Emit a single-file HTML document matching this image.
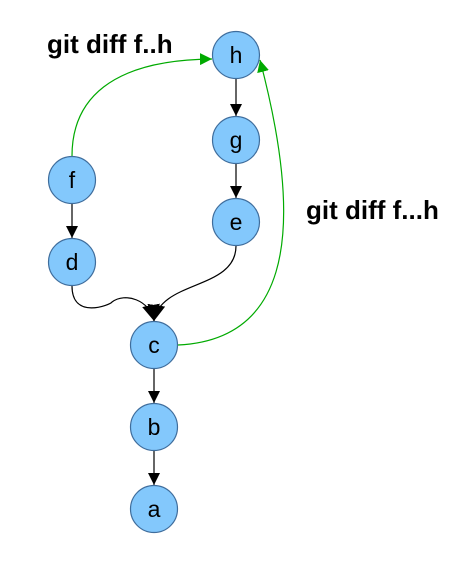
<!DOCTYPE html>
<html><head><style>html,body{margin:0;padding:0;background:#fff}</style></head><body>
<svg width="463" height="568" viewBox="0 0 463 568" xmlns="http://www.w3.org/2000/svg" font-family="Liberation Sans, sans-serif">
<defs>
<marker id="ab" markerWidth="12" markerHeight="12" refX="12" refY="6" orient="auto" markerUnits="userSpaceOnUse"><path d="M0,0 L12,6 L0,12 z" fill="#000"/></marker>
<marker id="ab2" markerWidth="16" markerHeight="18" refX="16" refY="9" orient="auto" markerUnits="userSpaceOnUse"><path d="M0,0 L16,9 L0,18 z" fill="#000"/></marker>
<marker id="ag" markerWidth="12" markerHeight="12" refX="12" refY="6" orient="auto" markerUnits="userSpaceOnUse"><path d="M0,0 L12,6 L0,12 z" fill="#0a0"/></marker>
</defs>
<g stroke="#000" stroke-width="1.2" fill="none" marker-end="url(#ab)">
<line x1="236" y1="79" x2="236" y2="116"/>
<line x1="236" y1="164" x2="236" y2="198"/>
<line x1="72" y1="204" x2="72" y2="238"/>
<line x1="154" y1="369" x2="154" y2="403"/>
<line x1="154" y1="451" x2="154" y2="485"/>
</g>
<g stroke="#000" stroke-width="1.2" fill="none" marker-end="url(#ab2)">
<path d="M72,286 C72,320 110,305 112,302 C125,292 150,300 154,321"/>
<path d="M236,246 C236,290 160,280 154,321"/>
</g>
<g stroke="#0a0" stroke-width="1.2" fill="none" marker-end="url(#ag)">
<path d="M72,156 C72,100 110,60 212,59"/>
<path d="M178,345 C280,340 310,250 260,60"/>
</g>
<g fill="#83c8fc" stroke="#3f6d9c" stroke-width="1.2">
<circle cx="236" cy="55" r="23.5"/><circle cx="236" cy="140" r="23.5"/><circle cx="236" cy="222" r="23.5"/>
<circle cx="72" cy="180" r="23.5"/><circle cx="72" cy="262" r="23.5"/><circle cx="154" cy="345" r="23.5"/>
<circle cx="154" cy="427" r="23.5"/><circle cx="154" cy="509" r="23.5"/>
</g>
<g font-size="23" text-anchor="middle" fill="#000">
<text x="236" y="63">h</text><text x="236" y="148">g</text><text x="236" y="230">e</text>
<text x="72" y="188">f</text><text x="72" y="270">d</text><text x="154" y="353">c</text>
<text x="154" y="435">b</text><text x="154" y="517">a</text>
</g>
<g font-size="26" font-weight="bold" fill="#000">
<text x="47" y="53">git diff f..h</text>
<text x="306" y="219">git diff f...h</text>
</g>
</svg>
</body></html>
